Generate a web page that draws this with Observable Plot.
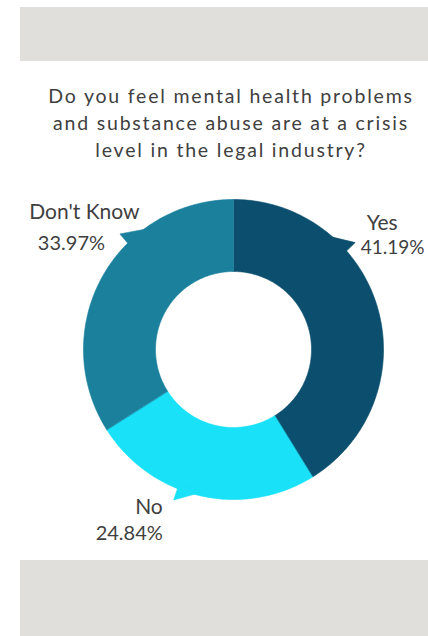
<!DOCTYPE html>
<html>
<head>
<meta charset="utf-8">
<script src="https://cdn.jsdelivr.net/npm/d3@7"></script>
<script src="https://cdn.jsdelivr.net/npm/@observablehq/plot@0.6"></script>
<style>
  html, body { margin: 0; padding: 0; background: #fff; width: 428px; height: 636px; overflow: hidden; }
  body { position: relative; font-family: Lato, sans-serif; }
  .band { position: absolute; left: 20px; right: 0; background: #e0dfdb; }
  #top { top: 7px; height: 54px; }
  #bottom { top: 560px; height: 76px; }
  #title { position: absolute; top: 82px; left: 34px; right: 0; text-align: center;
           font-size: 19.5px; line-height: 27px; color: #404040; letter-spacing: 1.8px; white-space: nowrap; }
  #chart { position: absolute; left: 0; top: 180px; }
</style>
</head>
<body>
<div class="band" id="top"></div>
<div id="title">Do you feel mental health problems<br>and substance abuse are at a crisis<br>level in the legal industry?</div>
<div id="chart"></div>
<div class="band" id="bottom"></div>
<script>
// ---- data ----
const categories = ["Yes", "No", "Don't Know"];
const shares = [41.19, 24.84, 33.97];
const pctLabels = ["41.19%", "24.84%", "33.97%"];
const colors = ["#0b4e6d", "#18e1f8", "#1a809c"];

// ---- layout (not data) ----
const W = 428, H = 380;
const cx = 233, cy = 169, R = 150;            // pixel centre/radius used to set scale domains
const inner = 0.52;                            // inner radius as fraction of outer
// label anchor (polar, radius units) + per-line pixel offsets
const labelLayout = {
  "Yes":        {angle: 47.2,  r: 1.21, anchor: "start",  nameDx: 0, nameDy: -3, pctDx: -6, pctDy: 22, pctSize: 19, pctSpacing: 0.2},
  "No":         {angle: 204.2, r: 1.15, anchor: "end",    nameDx: 0, nameDy: 0,  pctDx: 0,  pctDy: 27, pctSize: 20, pctSpacing: 1},
  "Don't Know": {angle: 312.6, r: 1.35, anchor: "middle", nameDx: 0, nameDy: 0,  pctDx: -13, pctDy: 31, pctSize: 20, pctSpacing: 0.6}
};
const tailLayout = {
  "Yes":        {a0: 38,  a1: 49,  tip: 48.7,  tr: 1.08},
  "No":         {a0: 192, a1: 202, tip: 201.7, tr: 1.08},
  "Don't Know": {a0: 315, a1: 327, tip: 315.5, tr: 1.08}
};

const rad = d => d * Math.PI / 180;
const px = (a, r) => r * Math.sin(rad(a));
const py = (a, r) => r * Math.cos(rad(a));

const total = d3.sum(shares);
let acc = 0;
const slices = categories.map((name, i) => {
  const a0 = acc / total * 360;
  acc += shares[i];
  const a1 = acc / total * 360;
  return {name, a0, a1, color: colors[i], label: pctLabels[i]};
});

function arcPoints(s) {
  const pts = [];
  const n = Math.max(2, Math.ceil(s.a1 - s.a0));
  for (let k = 0; k <= n; k++) { const a = s.a0 + (s.a1 - s.a0) * k / n; pts.push({x: px(a, 1), y: py(a, 1)}); }
  for (let k = n; k >= 0; k--) { const a = s.a0 + (s.a1 - s.a0) * k / n; pts.push({x: px(a, inner), y: py(a, inner)}); }
  return pts;
}
function tailPoints(s) {
  const t = tailLayout[s.name];
  return [
    {x: px(t.a0, 0.97), y: py(t.a0, 0.97)},
    {x: px(t.tip, t.tr), y: py(t.tip, t.tr)},
    {x: px(t.a1, 0.97), y: py(t.a1, 0.97)}
  ];
}

const marks = [];
for (const s of slices) {
  marks.push(Plot.line(arcPoints(s), {x: "x", y: "y", fill: s.color, stroke: s.color, strokeWidth: 0.6, curve: "linear-closed"}));
  marks.push(Plot.line(tailPoints(s), {x: "x", y: "y", fill: s.color, stroke: s.color, strokeWidth: 0.6, curve: "linear-closed"}));
}
for (const s of slices) {
  const L = labelLayout[s.name];
  const pos = [{x: px(L.angle, L.r), y: py(L.angle, L.r), name: s.name, pct: s.label}];
  marks.push(Plot.text(pos, {
    x: "x", y: "y", text: "name", textAnchor: L.anchor, dx: L.nameDx, dy: L.nameDy,
    fontSize: 21, fill: "#3f3f3f", fontFamily: "Lato, sans-serif", letterSpacing: 1.4
  }));
  marks.push(Plot.text(pos, {
    x: "x", y: "y", text: "pct", textAnchor: L.anchor, dx: L.pctDx, dy: L.pctDy,
    fontSize: L.pctSize, fill: "#3f3f3f", fontFamily: "Lato, sans-serif", letterSpacing: L.pctSpacing
  }));
}

const chart = Plot.plot({
  width: W, height: H,
  margin: 0,
  x: {domain: [-cx / R, (W - cx) / R], axis: null},
  y: {domain: [-(H - cy) / R, cy / R], axis: null},
  style: {background: "transparent", overflow: "visible"},
  marks
});
document.getElementById("chart").appendChild(chart);
</script>
</body>
</html>
